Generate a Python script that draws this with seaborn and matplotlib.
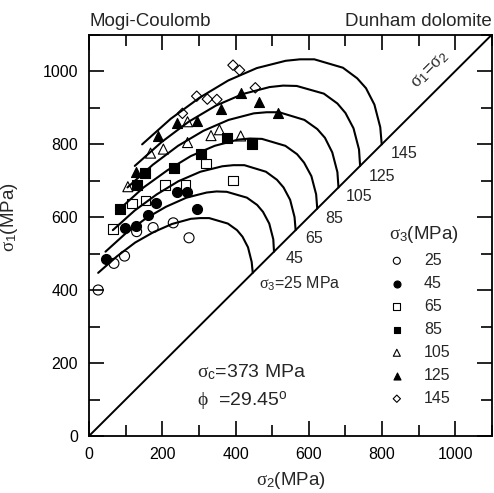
import numpy as np
import seaborn as sns
from matplotlib import pyplot as plt
from matplotlib.ticker import MultipleLocator

sns.set_style('ticks')
plt.rcParams['font.family'] = ['Liberation Sans', 'DejaVu Sans']
plt.rcParams['mathtext.fontset'] = 'custom'
plt.rcParams['mathtext.rm'] = 'Liberation Sans'
plt.rcParams['mathtext.it'] = 'Liberation Serif'
plt.rcParams['mathtext.bf'] = 'Liberation Sans:bold'
plt.rcParams['axes.axisbelow'] = False

sigma3_levels = [25, 45, 65, 85, 105, 125, 145]

# test data (sigma2, sigma1) in MPa, one pair of lists per sigma3
s2_25 = [25, 68, 97, 130, 175, 230, 273]
s1_25 = [400, 473, 493, 560, 571, 584, 543]
s2_45 = [46, 98, 127, 160, 183, 240, 267, 296]
s1_45 = [486, 569, 575, 605, 639, 668, 668, 622]
s2_65 = [65, 117, 154, 208, 263, 319, 393]
s1_65 = [567, 637, 645, 688, 688, 747, 700]
s2_85 = [85, 130, 154, 232, 307, 377, 445]
s1_85 = [622, 687, 720, 735, 773, 817, 800]
s2_105 = [106, 168, 203, 269, 269, 333, 356, 414]
s1_105 = [683, 775, 786, 861, 804, 823, 839, 822]
s2_125 = [127, 189, 240, 294, 360, 414, 463, 517]
s1_125 = [724, 822, 858, 862, 895, 941, 916, 886]
s2_145 = [255, 294, 323, 349, 393, 411, 454]
s1_145 = [884, 931, 923, 922, 1016, 1002, 954]

# Mogi-Coulomb criterion curves (sigma2, sigma1)
c2_25 = [25, 76, 126, 177, 227, 278, 303, 328, 379, 404, 419, 434, 444, 447]
c1_25 = [447, 492, 530, 559, 581, 595, 597, 597, 582, 564, 546, 517, 477, 447]
c2_45 = [45, 100, 155, 210, 266, 321, 348, 376, 431, 459, 475, 492, 503, 505]
c1_45 = [505, 555, 596, 628, 653, 667, 670, 669, 653, 633, 614, 582, 539, 505]
c2_65 = [65, 125, 185, 244, 304, 364, 394, 424, 483, 513, 531, 549, 561, 564]
c1_65 = [564, 618, 662, 698, 724, 739, 742, 742, 724, 702, 681, 647, 600, 564]
c2_85 = [85, 149, 214, 278, 343, 407, 439, 472, 536, 568, 587, 607, 620, 623]
c1_85 = [623, 681, 728, 767, 795, 812, 815, 814, 795, 772, 749, 712, 662, 623]
c2_105 = [105, 174, 243, 312, 381, 450, 485, 519, 588, 623, 644, 664, 678, 681]
c1_105 = [681, 743, 795, 836, 866, 884, 887, 887, 866, 841, 817, 777, 723, 681]
c2_125 = [125, 199, 272, 346, 420, 493, 530, 567, 641, 678, 700, 722, 737, 740]
c1_125 = [740, 806, 861, 905, 937, 956, 960, 959, 938, 911, 885, 843, 785, 740]
c2_145 = [145, 223, 302, 380, 458, 537, 576, 615, 693, 732, 756, 779, 795, 799]
c1_145 = [799, 869, 927, 974, 1008, 1028, 1032, 1032, 1009, 980, 953, 908, 846, 799]

diag = [0, 1100]
tick_vals = [0, 200, 400, 600, 800, 1000]

points = {25: (s2_25, s1_25), 45: (s2_45, s1_45), 65: (s2_65, s1_65), 85: (s2_85, s1_85),
          105: (s2_105, s1_105), 125: (s2_125, s1_125), 145: (s2_145, s1_145)}
curves = {25: (c2_25, c1_25), 45: (c2_45, c1_45), 65: (c2_65, c1_65), 85: (c2_85, c1_85),
          105: (c2_105, c1_105), 125: (c2_125, c1_125), 145: (c2_145, c1_145)}
styles = {25: ('o', False, 52), 45: ('o', True, 52), 65: ('s', False, 48), 85: ('s', True, 48),
          105: ('^', False, 52), 125: ('^', True, 52), 145: ('D', False, 28)}

fig, ax = plt.subplots(figsize=(4.94, 4.93), dpi=100)
fig.subplots_adjust(left=89 / 494, right=492 / 494, bottom=1 - 436 / 493, top=1 - 34.5 / 493)

sns.lineplot(x=diag, y=diag, color='black', lw=1.4, ax=ax)
for lvl in sigma3_levels:
    sns.lineplot(x=curves[lvl][0], y=curves[lvl][1], color='black', lw=1.5,
                 sort=False, estimator=None, ax=ax)

for lvl in sigma3_levels:
    m, filled, size = styles[lvl]
    sns.scatterplot(x=points[lvl][0], y=points[lvl][1], marker=m, s=size,
                    facecolor='black' if filled else 'none', edgecolor='black',
                    linewidth=0.8, label=str(lvl), zorder=3, ax=ax)

ax.set_xlim(0, 1100)
ax.set_ylim(0, 1100)
ax.set_xticks(tick_vals)
ax.set_yticks(tick_vals)
ax.xaxis.set_minor_locator(MultipleLocator(100))
ax.yaxis.set_minor_locator(MultipleLocator(100))
ax.tick_params(axis='both', which='both', bottom=True, left=True, top=True, right=True,
               direction='in', colors='black', width=1.2)
ax.tick_params(axis='both', which='major', length=10.5, pad=8, labelsize=11.5)
ax.tick_params(axis='both', which='minor', length=8)
for sp in ax.spines.values():
    sp.set_linewidth(1.3)
    sp.set_color('black')

ax.set_xlabel(r'$\sigma_2$(MPa)', fontsize=13.5, labelpad=6)
ax.set_ylabel(r'$\sigma_1$(MPa)', fontsize=13.5)
ax.yaxis.set_label_coords(-0.17, 0.545)
ax.set_title('Mogi-Coulomb', loc='left', fontsize=13.5, pad=6)
ax.set_title('Dunham dolomite', loc='right', fontsize=13.5, pad=6)

# labels along the sigma1 = sigma2 line
ax.text(932, 1003, r'$\sigma_1$=$\sigma_2$', fontsize=13, rotation=45,
        rotation_mode='anchor', ha='center', va='center')
diag_labels = {'145': (859, 774), '125': (800, 710), '105': (738, 656),
               '85': (670, 596), '65': (615, 541), '45': (561, 487)}
for txt, (x, y) in diag_labels.items():
    ax.text(x, y, txt, fontsize=11.5, ha='center', va='center')
ax.text(463, 418, r'$\sigma_3$=25 MPa', fontsize=11.5, ha='left', va='center')

ax.text(295, 174, r'$\sigma_\mathrm{c}$=373 MPa', fontsize=14, ha='left', va='center')
ax.text(294, 96, r'$\phi$  =29.45$^\mathrm{o}$', fontsize=14, ha='left', va='center')

handles, labels = ax.get_legend_handles_labels()
ax.legend(handles, labels, title=r'$\sigma_3$(MPa)', loc='upper left',
          bbox_to_anchor=(0.744, 0.528), frameon=False, fontsize=11.5,
          title_fontsize=13.5, markerscale=0.7, handlelength=1.0,
          handletextpad=1.2, labelspacing=0.5, borderpad=0,
          borderaxespad=0, alignment='left')

fig.savefig('out.png', dpi=100)
